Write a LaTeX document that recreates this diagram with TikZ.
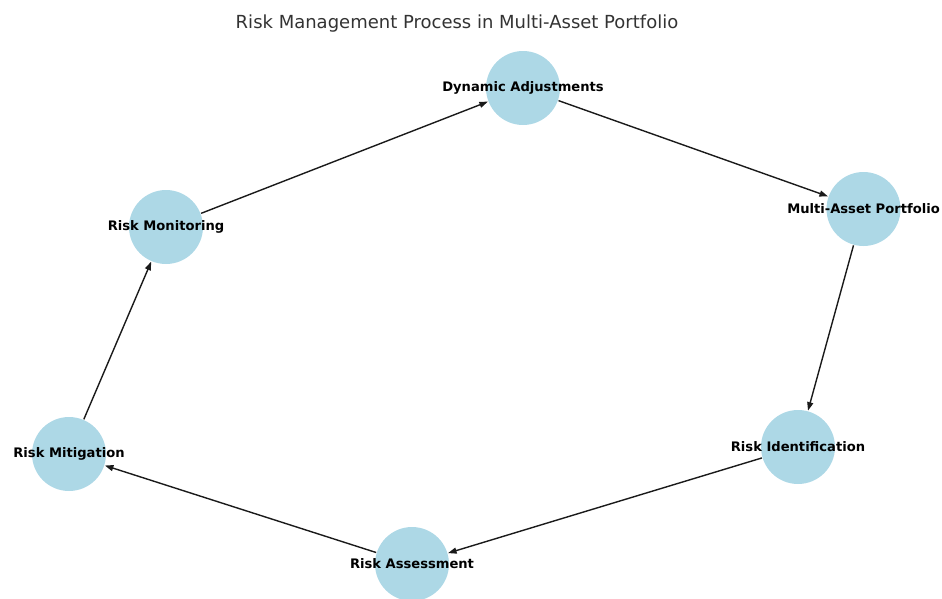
\documentclass[tikz,border=0pt]{standalone}
\usepackage{fontspec}
\setmainfont{DejaVu Sans}
\usetikzlibrary{arrows.meta}
\definecolor{nodeblue}{HTML}{ADD8E6}
\definecolor{edgecol}{HTML}{1A1A1A}
\definecolor{titlecol}{HTML}{333333}
\tikzset{
  bubble/.style={circle, fill=nodeblue, draw=none, minimum size=74pt, inner sep=0pt},
  lbl/.style={font=\fontsize{13.1}{15}\selectfont\bfseries, text=black, inner sep=0pt},
  flow/.style={draw=edgecol, line width=1.4pt, -{Triangle[length=8.5pt,width=6pt]}, shorten >=0.5pt, shorten <=0.5pt}
}
\begin{document}
\begin{tikzpicture}[x=1pt,y=-1pt]
\useasboundingbox (0,0) rectangle (942,598);
\node[font=\fontsize{18}{21}\selectfont, text=titlecol] (title) at (457,24) {Risk Management Process in Multi-Asset Portfolio};
\node[bubble] (da) at (523,88) {};
\node[bubble] (map) at (863.5,209) {};
\node[bubble] (ri) at (798,447) {};
\node[bubble] (ra) at (412,564) {};
\node[bubble] (rmi) at (69,454) {};
\node[bubble] (rmo) at (166,227) {};
\draw[flow] (da) -- (map);
\draw[flow] (map) -- (ri);
\draw[flow] (ri) -- (ra);
\draw[flow] (ra) -- (rmi);
\draw[flow] (rmi) -- (rmo);
\draw[flow] (rmo) -- (da);
\node[lbl] (tda) at (da) {Dynamic Adjustments};
\node[lbl] (tmap) at (map) {Multi-Asset Portfolio};
\node[lbl] (tri) at (ri) {Risk Identification};
\node[lbl] (tra) at (ra) {Risk Assessment};
\node[lbl] (trmi) at (rmi) {Risk Mitigation};
\node[lbl] (trmo) at (rmo) {Risk Monitoring};
\end{tikzpicture}
\end{document}
